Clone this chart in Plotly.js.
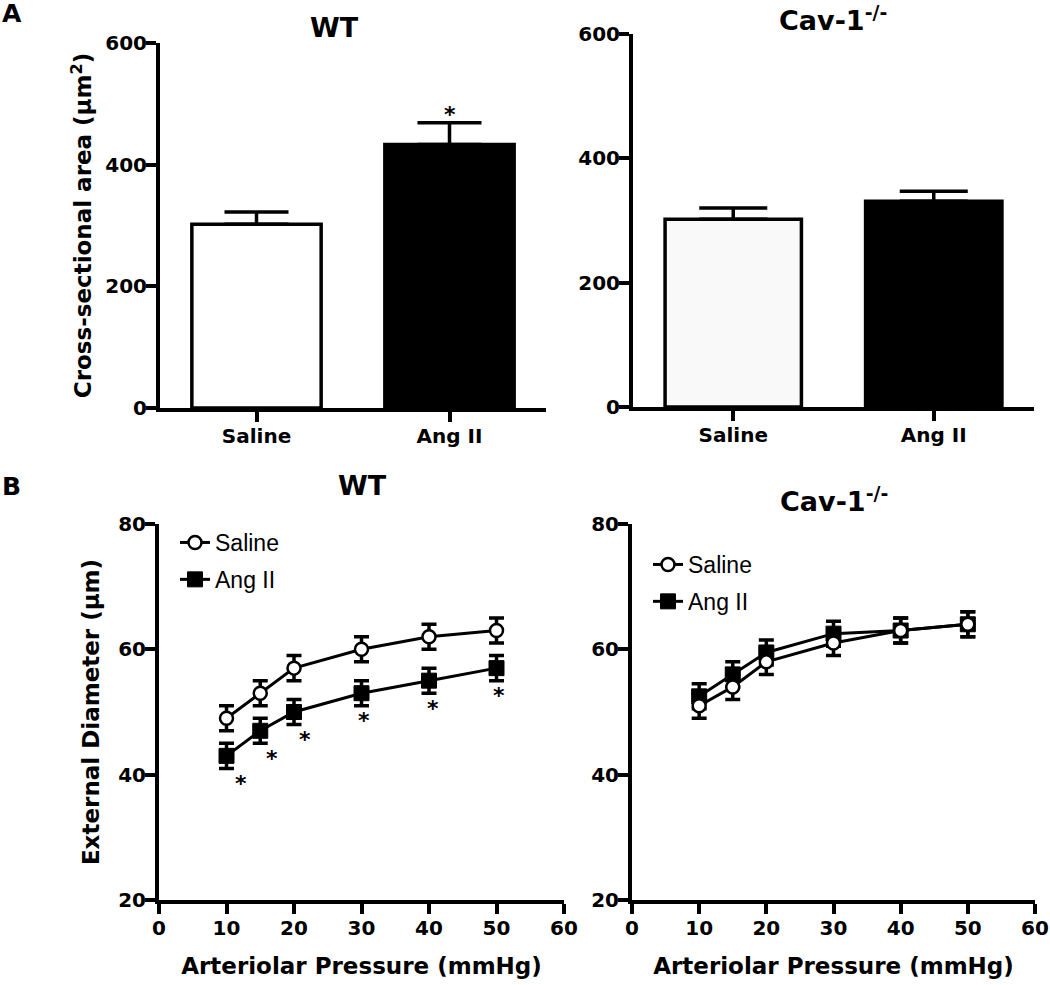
<!DOCTYPE html>
<html>
<head>
<meta charset="utf-8">
<script src="https://cdn.plot.ly/plotly-3.0.1.min.js"></script>
<style>html,body{margin:0;padding:0;background:#fff;}#chart{width:1050px;height:985px;}</style>
</head>
<body>
<div id="chart"></div>
<script>
// ---------- data ----------
const barCats = ['Saline', 'Ang II'];
const wtArea = [302, 433];
const wtAreaSem = [20, 36];
const cavArea = [302, 331];
const cavAreaSem = [18, 16];

const pressure = [10, 15, 20, 30, 40, 50];
const wtSaline = [49, 53, 57, 60, 62, 63];
const wtSalineSem = [2, 2, 2, 2, 2, 2];
const wtAngII = [43, 47, 50, 53, 55, 57];
const wtAngIISem = [2, 2, 2, 2, 2, 2];
const cavSaline = [51, 54, 58, 61, 63, 64];
const cavSalineSem = [2, 2, 2, 2, 2, 2];
const cavAngII = [52.5, 56, 59.5, 62.5, 63, 64];
const cavAngIISem = [2, 2, 2, 2, 2, 2];

const areaTicks = [0, 200, 400, 600];
const diamTicks = [20, 40, 60, 80];
const pressTicks = [0, 10, 20, 30, 40, 50, 60];
const starDx = [2.1, 1.7, 1.6, 0.4, 0.6, 0.3];

// ---------- layout helpers ----------
const W = 1050, H = 985;
const fx = p => p / W;
const fy = p => 1 - p / H;
const BOLD = {family: 'DejaVu Sans', weight: 'bold', color: '#000'};
const tickFont = Object.assign({size: 20}, BOLD);
const titleFont = Object.assign({size: 23}, BOLD);

function axisBase(extra) {
  return Object.assign({
    showline: true, linewidth: 4, linecolor: '#000',
    ticks: 'outside', ticklen: 10, tickwidth: 4, tickcolor: '#000',
    tickfont: tickFont, showgrid: false, zeroline: false,
    automargin: false, fixedrange: true, ticklabeloverflow: 'allow'
  }, extra);
}

const errBar = (arr, minus, w) => ({
  type: 'data', symmetric: minus === null, array: arr,
  arrayminus: minus === null ? undefined : minus,
  color: '#000', thickness: 3.5, width: w, visible: true
});

const traces = [
  // A - WT bars
  {type: 'bar', x: barCats, y: wtArea, width: 0.67, xaxis: 'x', yaxis: 'y',
   marker: {color: ['#ffffff', '#000000'], line: {color: '#000', width: 3.5}},
   error_y: errBar(wtAreaSem, [0, 0], 32), showlegend: false, hoverinfo: 'none'},
  // A - Cav bars
  {type: 'bar', x: barCats, y: cavArea, width: 0.68, xaxis: 'x2', yaxis: 'y2',
   marker: {color: ['#f9f9f9', '#000000'], line: {color: '#000', width: 3.5}},
   error_y: errBar(cavAreaSem, [0, 0], 34), showlegend: false, hoverinfo: 'none'},
  // B - WT
  {type: 'scatter', mode: 'lines+markers', name: 'Saline', x: pressure, y: wtSaline,
   xaxis: 'x3', yaxis: 'y3', legend: 'legend', legendgroup: 'a1', legendrank: 1,
   line: {color: '#000', width: 3},
   marker: {symbol: 'circle', size: 13, color: '#fff', line: {color: '#000', width: 2.5}},
   error_y: errBar(wtSalineSem, null, 7.5), cliponaxis: false},
  {type: 'scatter', mode: 'lines+markers', name: 'Ang II', x: pressure, y: wtAngII,
   xaxis: 'x3', yaxis: 'y3', legend: 'legend', legendgroup: 'a2', legendrank: 2,
   line: {color: '#000', width: 3},
   marker: {symbol: 'square', size: 15, color: '#000', line: {color: '#000', width: 1}},
   error_y: errBar(wtAngIISem, null, 7.5), cliponaxis: false},
  // B - Cav (Ang II drawn first so Saline sits on top)
  {type: 'scatter', mode: 'lines+markers', name: 'Ang II', x: pressure, y: cavAngII,
   xaxis: 'x4', yaxis: 'y4', legend: 'legend2', legendgroup: 'b2', legendrank: 2,
   line: {color: '#000', width: 3},
   marker: {symbol: 'square', size: 15, color: '#000', line: {color: '#000', width: 1}},
   error_y: errBar(cavAngIISem, null, 7.5), cliponaxis: false},
  {type: 'scatter', mode: 'lines+markers', name: 'Saline', x: pressure, y: cavSaline,
   xaxis: 'x4', yaxis: 'y4', legend: 'legend2', legendgroup: 'b1', legendrank: 1,
   line: {color: '#000', width: 3},
   marker: {symbol: 'circle', size: 13, color: '#fff', line: {color: '#000', width: 2.5}},
   error_y: errBar(cavSalineSem, null, 7.5), cliponaxis: false}
];

const annotations = [];
function addText(text, px, py, size, weight, extra) {
  annotations.push(Object.assign({
    text: text, xref: 'paper', yref: 'paper', x: fx(px), y: fy(py),
    xanchor: 'center', yanchor: 'middle', showarrow: false,
    font: {family: 'DejaVu Sans', size: size, weight: weight, color: '#000'}
  }, extra || {}));
}
addText('A', 12, 14, 25, 'bold');
addText('B', 11, 487, 25, 'bold');
addText('WT', 334, 28, 27, 'bold');
addText('Cav-1<sup>-/-</sup>', 833, 19, 27, 'bold');
addText('WT', 362, 485, 27, 'bold');
addText('Cav-1<sup>-/-</sup>', 834, 500, 27, 'bold');

// significance star above WT Ang II bar
annotations.push({
  text: '*', xref: 'x', yref: 'y', x: barCats[1], y: wtArea[1] + wtAreaSem[1],
  xanchor: 'center', yanchor: 'middle', yshift: 8, showarrow: false,
  font: {family: 'DejaVu Sans', size: 22, weight: 'bold', color: '#000'}
});
// significance stars below WT Ang II curve points
pressure.forEach((p, i) => {
  annotations.push({
    text: '*', xref: 'x3', yref: 'y3', x: p + starDx[i], y: wtAngII[i] - wtAngIISem[i],
    xanchor: 'center', yanchor: 'middle', yshift: -15, showarrow: false,
    font: {family: 'DejaVu Sans', size: 22, weight: 'bold', color: '#000'}
  });
});

const legendCommon = {
  xanchor: 'left', yanchor: 'top', bgcolor: 'rgba(0,0,0,0)', borderwidth: 0,
  font: {family: 'Liberation Sans', size: 23, color: '#000'},
  traceorder: 'grouped', tracegroupgap: 4, itemwidth: 30, itemclick: false, itemdoubleclick: false
};

const layout = {
  width: W, height: H,
  margin: {l: 0, r: 0, t: 0, b: 0},
  paper_bgcolor: '#fff', plot_bgcolor: 'rgba(0,0,0,0)',
  showlegend: true, hovermode: false, bargap: 0,
  font: {family: 'DejaVu Sans', color: '#000'},
  // A - WT
  xaxis: axisBase({domain: [fx(160), fx(546)], anchor: 'y', type: 'category',
    range: [-0.5, 1.5], categoryarray: barCats, ticklabelstandoff: -3}),
  yaxis: axisBase({domain: [fy(408), fy(43)], anchor: 'x', range: [0, 600],
    tickvals: areaTicks, ticklabelstandoff: -5,
    title: {text: 'Cross-sectional area (μm<sup>2</sup>)', font: titleFont, standoff: 8}}),
  // A - Cav
  xaxis2: axisBase({domain: [fx(633), fx(1034)], anchor: 'y2', type: 'category',
    range: [-0.5, 1.5], categoryarray: barCats, ticklabelstandoff: -3}),
  yaxis2: axisBase({domain: [fy(407), fy(34)], anchor: 'x2', range: [0, 600],
    tickvals: areaTicks, ticklabelstandoff: -5}),
  // B - WT
  xaxis3: axisBase({domain: [fx(159), fx(564)], anchor: 'y3', range: [0, 60],
    tickvals: pressTicks, ticklabelstandoff: -3,
    title: {text: 'Arteriolar Pressure (mmHg)', font: titleFont, standoff: 20}}),
  yaxis3: axisBase({domain: [fy(900), fy(524)], anchor: 'x3', range: [20, 80],
    tickvals: diamTicks, ticklabelstandoff: -5,
    title: {text: 'External Diameter (μm)', font: titleFont, standoff: 13}}),
  // B - Cav
  xaxis4: axisBase({domain: [fx(632), fx(1035)], anchor: 'y4', range: [0, 60],
    tickvals: pressTicks, ticklabelstandoff: -3,
    title: {text: 'Arteriolar Pressure (mmHg)', font: titleFont, standoff: 20}}),
  yaxis4: axisBase({domain: [fy(900), fy(524)], anchor: 'x4', range: [20, 80],
    tickvals: diamTicks, ticklabelstandoff: -5}),
  legend: Object.assign({x: fx(175), y: fy(521)}, legendCommon),
  legend2: Object.assign({x: fx(648), y: fy(543)}, legendCommon),
  annotations: annotations
};

Plotly.newPlot('chart', traces, layout, {staticPlot: true, displayModeBar: false});
</script>
</body>
</html>
